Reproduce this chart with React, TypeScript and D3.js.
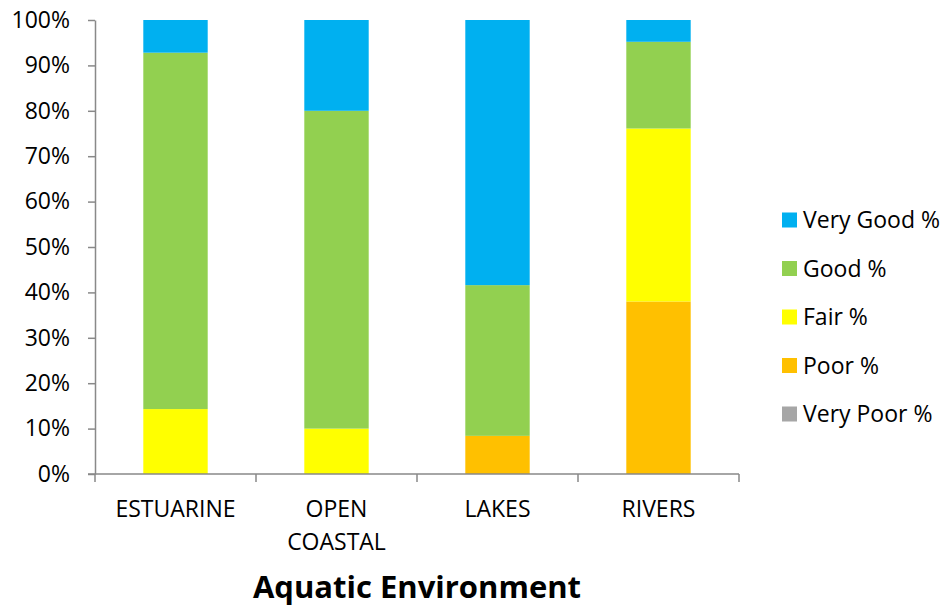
import {default as React, useEffect, useRef} from "react";
import * as d3 from "d3";

const categories = ["ESTUARINE", "OPEN COASTAL", "LAKES", "RIVERS"];
const seriesNames = ["Very Poor %", "Poor %", "Fair %", "Good %", "Very Good %"];
const seriesColors = ["#A6A6A6", "#FFC000", "#FFFF00", "#92D050", "#00B0F0"];

// values per category, percent
const veryPoor = [0, 0, 0, 0];
const poor = [0, 0, 8.4, 38.0];
const fair = [14.3, 10.0, 0, 38.1];
const good = [78.5, 70.0, 33.2, 19.1];
const veryGood = [7.2, 20.0, 58.4, 4.8];

const yTicks = [0, 0.1, 0.2, 0.3, 0.4, 0.5, 0.6, 0.7, 0.8, 0.9, 1];
const xTitle = "Aquatic Environment";

const width = 949;
const height = 607;
const margins = {top: 20, right: 210, bottom: 133, left: 95};
const font = "'Open Sans', 'DejaVu Sans', sans-serif";
const axisColor = "#898989";

function App(): JSX.Element {
    const svgRef = useRef<SVGSVGElement>(null);

    useEffect(() => {
        if (!svgRef.current) return;
        const svg = d3.select(svgRef.current);
        svg.selectAll("*").remove();

        const plotW = width - margins.left - margins.right;
        const plotH = height - margins.top - margins.bottom;

        const rows = categories.map((c, i) => ({
            cat: c,
            "Very Poor %": veryPoor[i],
            "Poor %": poor[i],
            "Fair %": fair[i],
            "Good %": good[i],
            "Very Good %": veryGood[i]
        }));

        const stacked = d3.stack<any>().keys(seriesNames)(rows);

        const x = d3.scaleBand()
            .domain(categories)
            .range([margins.left, margins.left + plotW])
            .paddingInner(0.6)
            .paddingOuter(0.3);

        const y = d3.scaleLinear()
            .domain([0, 100])
            .range([margins.top + plotH, margins.top]);

        const color = d3.scaleOrdinal<string>().domain(seriesNames).range(seriesColors);

        // bars
        const layers = svg.append("g")
            .selectAll("g")
            .data(stacked)
            .join("g")
            .attr("fill", d => color(d.key));

        layers.selectAll("rect")
            .data(d => d)
            .join("rect")
            .attr("x", d => x(d.data.cat) as number)
            .attr("width", x.bandwidth())
            .attr("y", d => y(d[1]))
            .attr("height", d => y(d[0]) - y(d[1]));

        // y axis
        const yAxis = d3.axisLeft(d3.scaleLinear().domain([0, 1]).range(y.range()))
            .tickValues(yTicks)
            .tickFormat(d3.format(".0%"))
            .tickSize(7)
            .tickSizeOuter(0)
            .tickPadding(18);

        const yAxisElem = svg.append("g")
            .attr("transform", `translate(${margins.left},0)`)
            .call(yAxis);
        yAxisElem.selectAll("path, line").attr("stroke", axisColor).attr("stroke-width", 1.5);
        yAxisElem.selectAll("text")
            .attr("font-family", font)
            .attr("font-size", 23)
            .attr("fill", "#000");

        // x axis
        const x0 = margins.left;
        const base = y(0);
        const xAxisG = svg.append("g");
        xAxisG.append("line")
            .attr("x1", x0 - 7)
            .attr("x2", x0 + plotW)
            .attr("y1", base)
            .attr("y2", base)
            .attr("stroke", axisColor)
            .attr("stroke-width", 1.5);
        xAxisG.selectAll("line.tick")
            .data(d3.range(categories.length + 1))
            .join("line")
            .attr("class", "tick")
            .attr("x1", i => x0 + i * x.step())
            .attr("x2", i => x0 + i * x.step())
            .attr("y1", base)
            .attr("y2", base + 8)
            .attr("stroke", axisColor)
            .attr("stroke-width", 1.5);

        const labels = xAxisG.selectAll("text")
            .data(categories)
            .join("text")
            .attr("text-anchor", "middle")
            .attr("font-family", font)
            .attr("font-size", 23)
            .attr("fill", "#000")
            .attr("x", d => (x(d) as number) + x.bandwidth() / 2)
            .attr("y", base + 43);
        labels.each(function (d) {
            const t = d3.select(this);
            const cx = (x(d) as number) + x.bandwidth() / 2;
            d.split(" ").forEach((w, i) => {
                t.append("tspan").attr("x", cx).attr("dy", i === 0 ? 0 : 33).text(w);
            });
        });

        // axis title
        svg.append("text")
            .attr("x", margins.left + plotW / 2)
            .attr("y", 598)
            .attr("text-anchor", "middle")
            .attr("font-family", font)
            .attr("font-weight", "bold")
            .attr("font-size", 31)
            .attr("fill", "#000")
            .text(xTitle);

        // legend (top to bottom: Very Good first)
        const legendItems = seriesNames.slice().reverse();
        const legend = svg.append("g")
            .selectAll("g")
            .data(legendItems)
            .join("g")
            .attr("transform", (d, i) => `translate(782, ${220 + i * 48.5})`);
        legend.append("rect")
            .attr("x", 0)
            .attr("y", -7.5)
            .attr("width", 15)
            .attr("height", 15)
            .attr("fill", d => color(d));
        legend.append("text")
            .attr("x", 21)
            .attr("y", 0)
            .attr("dy", "0.35em")
            .attr("font-family", font)
            .attr("font-size", 23)
            .attr("fill", "#000")
            .text(d => d);
    }, []);

    return (
        <div style={{position: "absolute", left: 0, top: 0}}>
            <svg ref={svgRef} width={width} height={height} style={{display: "block", background: "#fff"}}/>
        </div>
    );
}

export default App;
